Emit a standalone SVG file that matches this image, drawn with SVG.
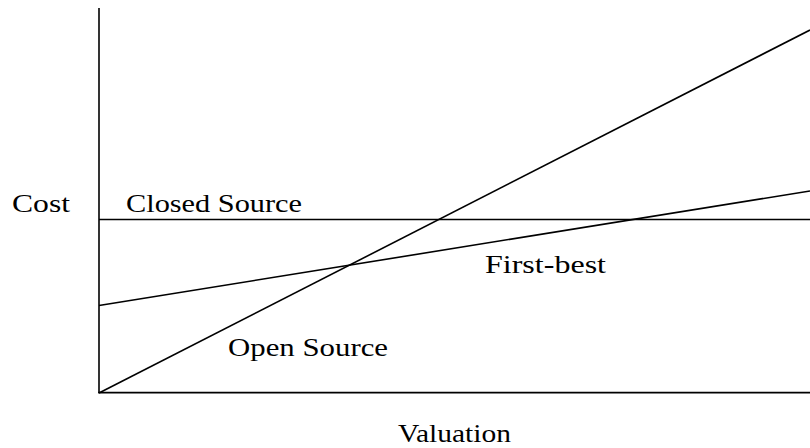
<svg xmlns="http://www.w3.org/2000/svg" width="810" height="448" viewBox="0 0 810 448">
<style>
.ln{stroke:#000;stroke-width:1.6;fill:none}
.t{font-family:"Liberation Serif","DejaVu Serif",serif;font-size:26px;fill:#000}
</style>
<rect width="810" height="448" fill="#fff"/>
<g id="axes">
<line class="ln" x1="99" y1="8" x2="99" y2="393"/>
<line class="ln" x1="98.2" y1="392.6" x2="810" y2="392.6"/>
</g>
<g id="connectors">
<line id="closed-source" class="ln" x1="99" y1="219.5" x2="810" y2="219.5"/>
<line id="open-source" class="ln" x1="99" y1="393" x2="810" y2="30"/>
<line id="first-best" class="ln" x1="99" y1="305.5" x2="810" y2="191"/>
</g>
<g id="labels">
<text class="t" x="12" y="212" textLength="58" lengthAdjust="spacingAndGlyphs">Cost</text>
<text class="t" x="126" y="212" textLength="176" lengthAdjust="spacingAndGlyphs">Closed Source</text>
<text class="t" x="485" y="273" textLength="121" lengthAdjust="spacingAndGlyphs">First-best</text>
<text class="t" x="228" y="356" textLength="160" lengthAdjust="spacingAndGlyphs">Open Source</text>
<text class="t" x="398" y="442" textLength="113" lengthAdjust="spacingAndGlyphs">Valuation</text>
</g>
</svg>
